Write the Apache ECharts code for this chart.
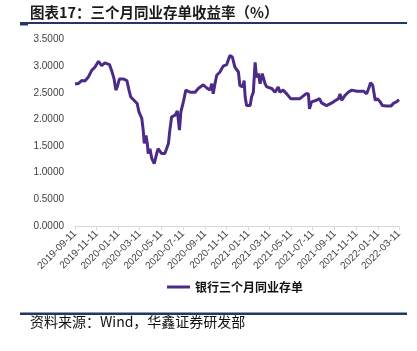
<!DOCTYPE html>
<html><head><meta charset="utf-8">
<script src="https://cdn.jsdelivr.net/npm/echarts@6/dist/echarts.min.js"></script>
<style>html,body{margin:0;padding:0;background:#fff}#c{width:417px;height:351px}</style>
</head><body><div id="c"></div>
<script>
var seriesName = '银行三个月同业存单';
var tickLabels = ['2019-09-11','2019-11-11','2020-01-11','2020-03-11','2020-05-11','2020-07-11','2020-09-11','2020-11-11','2021-01-11','2021-03-11','2021-05-11','2021-07-11','2021-09-11','2021-11-11','2022-01-11','2022-03-11'];
var yTicks = [0,0.5,1,1.5,2,2.5,3,3.5];
var dates = ['2019-09-11','2019-09-20','2019-09-30','2019-10-09','2019-10-18','2019-10-28','2019-11-06','2019-11-16','2019-11-25','2019-12-04',
'2019-12-17','2019-12-23','2019-12-30','2020-01-04','2020-01-08','2020-01-14','2020-01-25','2020-02-04','2020-02-10','2020-02-15',
'2020-02-24','2020-03-04','2020-03-09','2020-03-17','2020-03-21','2020-03-24','2020-03-29','2020-04-02','2020-04-04','2020-04-09',
'2020-04-14','2020-04-18','2020-04-21','2020-04-28','2020-05-02','2020-05-12','2020-05-21','2020-05-31','2020-06-04','2020-06-09',
'2020-06-19','2020-06-25','2020-07-01','2020-07-05','2020-07-12','2020-07-19','2020-07-31','2020-08-14','2020-08-23','2020-09-06',
'2020-09-16','2020-09-25','2020-09-30','2020-10-04','2020-10-09','2020-10-14','2020-10-23','2020-11-01','2020-11-11','2020-11-20',
'2020-11-27','2020-12-04','2020-12-14','2020-12-18','2020-12-26','2020-12-30','2021-01-02','2021-01-06','2021-01-16','2021-01-20',
'2021-01-25','2021-01-30','2021-02-03','2021-02-08','2021-02-13','2021-02-19','2021-02-27','2021-03-04','2021-03-18','2021-03-27',
'2021-04-05','2021-04-10','2021-04-19','2021-04-29','2021-05-10','2021-05-22','2021-06-05','2021-06-22','2021-06-29','2021-07-02',
'2021-07-08','2021-07-22','2021-07-30','2021-08-05','2021-08-19','2021-09-03','2021-09-12','2021-09-22','2021-09-26','2021-10-01',
'2021-10-10','2021-10-19','2021-10-29','2021-11-12','2021-12-01','2021-12-10','2021-12-17','2021-12-21','2021-12-27','2022-01-03',
'2022-01-09','2022-01-17','2022-01-23','2022-02-04','2022-02-16','2022-02-25','2022-03-04','2022-03-11'];
var values = [2.67,2.67,2.73,2.72,2.79,2.92,2.98,3.09,3.01,3.06,
3.03,2.92,2.76,2.55,2.61,2.76,2.76,2.73,2.55,2.42,
2.36,2.30,2.14,2.02,1.80,1.55,1.70,1.52,1.36,1.45,
1.27,1.30,1.17,1.36,1.45,1.36,1.36,1.55,1.80,2.05,
2.08,2.16,1.80,2.14,2.33,2.55,2.51,2.51,2.58,2.65,
2.59,2.55,2.67,2.48,2.67,2.83,2.89,3.00,3.03,3.20,
3.17,2.98,2.89,2.64,2.61,2.73,2.42,2.26,2.26,2.42,
2.51,3.07,2.79,2.86,2.67,2.86,2.67,2.61,2.58,2.51,
2.61,2.51,2.55,2.48,2.39,2.39,2.39,2.48,2.48,2.20,
2.33,2.36,2.39,2.31,2.26,2.31,2.35,2.39,2.48,2.36,
2.45,2.51,2.55,2.53,2.53,2.48,2.61,2.69,2.64,2.36,
2.39,2.33,2.26,2.25,2.25,2.31,2.33,2.37];

function pad(n){return n<10?'0'+n:''+n;}
var cats = [];
(function(){
  var d = new Date(Date.UTC(2019,8,11)), end = new Date(Date.UTC(2022,2,11));
  while (d <= end) {
    cats.push(d.getUTCFullYear()+'-'+pad(d.getUTCMonth()+1)+'-'+pad(d.getUTCDate()));
    d = new Date(d.getTime()+86400000);
  }
})();
var tickSet = {}; tickLabels.forEach(function(t){tickSet[t]=true;});
function showTick(i, v){ return !!tickSet[v]; }

var chart = echarts.init(document.getElementById('c'), null, {renderer:'canvas'});
chart.setOption({
  animation:false,
  backgroundColor:'#fff',
  grid:{left:75,right:18,top:39.5,bottom:125,containLabel:false},
  legend:{
    data:[seriesName], left:162, top:276, icon:'rect', itemWidth:23, itemHeight:3, itemGap:4,
    textStyle:{fontFamily:'Noto Sans CJK SC', fontSize:12, fontWeight:'bold', color:'#111'}
  },
  xAxis:{
    type:'category', data:cats, boundaryGap:false,
    axisLine:{lineStyle:{color:'#d9d9d9', width:1}},
    axisTick:{show:true, interval:showTick, length:4, lineStyle:{color:'#d9d9d9'}},
    axisLabel:{interval:showTick, rotate:45, fontSize:10, color:'#404040', fontFamily:'Liberation Sans', margin:6}
  },
  yAxis:{
    type:'value', min:yTicks[0], max:yTicks[yTicks.length-1], interval:0.5,
    axisLine:{show:false}, axisTick:{show:false}, splitLine:{show:false},
    axisLabel:{formatter:function(v){return v.toFixed(4);}, fontSize:10, color:'#404040', fontFamily:'Liberation Sans', margin:11}
  },
  series:[{
    name:seriesName, type:'line', showSymbol:false, symbol:'none',
    data: dates.map(function(d,i){return [d, values[i]];}),
    lineStyle:{width:3, color:'#4b2a88'}, itemStyle:{color:'#4b2a88'}
  }],
  graphic:[
    {type:'text', left:30, top:5, style:{text:'图表17：三个月同业存单收益率（%）', font:'bold 14.5px "Noto Sans CJK SC"', fill:'#1a1a1a'}},
    {type:'rect', shape:{x:20, y:22, width:387, height:2}, style:{fill:'#1f3864'}},
    {type:'rect', shape:{x:20, y:24, width:8, height:1.5}, style:{fill:'#1f3864'}},
    {type:'rect', shape:{x:20, y:312.5, width:387, height:2.5}, style:{fill:'#1f3864'}},
    {type:'text', left:30, top:315, style:{text:'资料来源：Wind，华鑫证券研发部', font:'14px "Noto Sans CJK SC"', fill:'#111'}}
  ]
});
</script></body></html>
